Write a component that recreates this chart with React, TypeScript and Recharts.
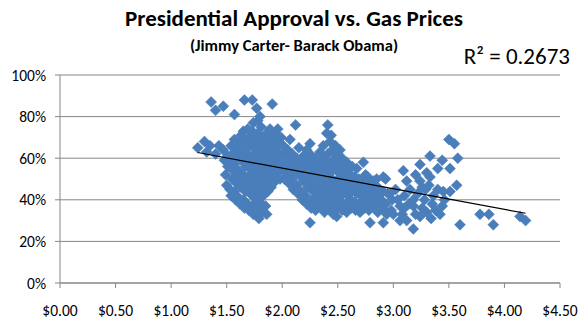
import { CartesianGrid, Scatter, ScatterChart, XAxis, YAxis } from "recharts";

type Pair = [number, number];

// [gas price $, approval %]
const under2: Pair[] = [
  [1.36, 87], [1.4, 83], [1.47, 85], [1.57, 81], [1.66, 88], [1.73, 88], [1.77, 84], [1.91, 86],
  [1.8, 80], [1.74, 77], [1.65, 73], [1.89, 74], [1.96, 74],
  [1.24, 65], [1.3, 68], [1.35, 66], [1.43, 66], [1.47, 64], [1.4, 62], [1.32, 63], [1.51, 61],
  [1.5, 47], [1.49, 52], [1.51, 56], [1.48, 59],
  [1.54, 42], [1.53, 45], [1.55, 50], [1.54, 55], [1.53, 58], [1.55, 62], [1.54, 66],
  [1.58, 40], [1.57, 44], [1.59, 48], [1.58, 53], [1.57, 57], [1.59, 61], [1.58, 65], [1.57, 69],
  [1.62, 38], [1.61, 41], [1.63, 46], [1.62, 50], [1.61, 54], [1.63, 59], [1.62, 63], [1.61, 67], [1.63, 71],
  [1.66, 36], [1.65, 40], [1.67, 44], [1.66, 48], [1.65, 52], [1.67, 56], [1.66, 60], [1.65, 64], [1.67, 68],
  [1.7, 35], [1.69, 38], [1.71, 43], [1.7, 47], [1.69, 51], [1.71, 55], [1.7, 59], [1.69, 62], [1.71, 66], [1.7, 70], [1.69, 74],
  [1.74, 33], [1.73, 37], [1.75, 41], [1.74, 45], [1.73, 49], [1.75, 53], [1.74, 57], [1.73, 61], [1.75, 65], [1.74, 69], [1.73, 73],
  [1.79, 31], [1.78, 36], [1.77, 40], [1.79, 44], [1.78, 48], [1.77, 52], [1.79, 56], [1.78, 60], [1.77, 64], [1.79, 68], [1.78, 72], [1.78, 78],
  [1.82, 34], [1.81, 38], [1.83, 42], [1.82, 46], [1.81, 50], [1.83, 54], [1.82, 58], [1.81, 62], [1.83, 66], [1.82, 70], [1.81, 75],
  [1.86, 33], [1.85, 37], [1.87, 44], [1.86, 48], [1.85, 52], [1.87, 56], [1.86, 60], [1.85, 64], [1.87, 68], [1.86, 72],
  [1.9, 46], [1.89, 50], [1.91, 54], [1.9, 58], [1.89, 62], [1.91, 66], [1.9, 70],
  [1.94, 49], [1.93, 52], [1.95, 56], [1.94, 60], [1.93, 64], [1.95, 68], [1.94, 72],
  [1.98, 50], [1.97, 54], [1.99, 58], [1.98, 62], [1.97, 66], [1.99, 70],
];

const from2to3: Pair[] = [
  [2.12, 76], [2.41, 76], [2.4, 72], [2.25, 67], [2.25, 29], [2.49, 32], [2.79, 29], [2.73, 58], [2.91, 51],
  [2.44, 71], [2.48, 66], [2.52, 64],
  [2.02, 50], [2.01, 54], [2.03, 58], [2.02, 62], [2.01, 66],
  [2.06, 48], [2.05, 52], [2.07, 56], [2.06, 60], [2.05, 64], [2.07, 69],
  [2.1, 45], [2.09, 50], [2.11, 54], [2.1, 58], [2.09, 62],
  [2.14, 43], [2.13, 47], [2.15, 52], [2.14, 56], [2.13, 60], [2.15, 65],
  [2.18, 40], [2.17, 44], [2.19, 49], [2.18, 53], [2.17, 57], [2.19, 61],
  [2.22, 38], [2.21, 42], [2.23, 46], [2.22, 51], [2.21, 55], [2.23, 59], [2.22, 64],
  [2.26, 36], [2.27, 40], [2.26, 45], [2.25, 49], [2.27, 53], [2.26, 57], [2.25, 62],
  [2.3, 35], [2.29, 39], [2.31, 43], [2.3, 47], [2.29, 52], [2.31, 56], [2.3, 60],
  [2.34, 37], [2.33, 41], [2.35, 45], [2.34, 50], [2.33, 54], [2.35, 58], [2.34, 63],
  [2.38, 34], [2.37, 38], [2.39, 42], [2.38, 47], [2.37, 51], [2.39, 55], [2.38, 60], [2.37, 66],
  [2.42, 36], [2.43, 40], [2.42, 44], [2.41, 48], [2.43, 53], [2.42, 57], [2.41, 62], [2.43, 68],
  [2.46, 33], [2.45, 38], [2.47, 42], [2.46, 46], [2.45, 50], [2.47, 55], [2.46, 59], [2.45, 64],
  [2.5, 36], [2.51, 40], [2.5, 45], [2.49, 49], [2.51, 53], [2.5, 57], [2.49, 61],
  [2.54, 35], [2.53, 39], [2.55, 43], [2.54, 47], [2.53, 52], [2.55, 56], [2.54, 60],
  [2.58, 34], [2.57, 37], [2.59, 42], [2.58, 46], [2.57, 50], [2.59, 54], [2.58, 58],
  [2.62, 36], [2.61, 40], [2.63, 44], [2.62, 48], [2.61, 52], [2.63, 56],
  [2.66, 35], [2.65, 39], [2.67, 43], [2.66, 47], [2.65, 51], [2.67, 55],
  [2.7, 34], [2.69, 38], [2.71, 42], [2.7, 46], [2.69, 50],
  [2.74, 36], [2.75, 40], [2.74, 44], [2.73, 48], [2.75, 52],
  [2.78, 35], [2.77, 39], [2.79, 43], [2.78, 47], [2.77, 51],
  [2.82, 37], [2.81, 41], [2.83, 45], [2.82, 49],
  [2.86, 34], [2.85, 38], [2.87, 42], [2.86, 46], [2.85, 50],
  [2.9, 36], [2.89, 40], [2.91, 44], [2.91, 29],
  [2.94, 33], [2.93, 38], [2.95, 43], [2.93, 50], [2.97, 43],
  [2.98, 35], [2.99, 40], [2.88, 43],
];

const over3: Pair[] = [
  [3.5, 69], [3.55, 67], [3.58, 60], [3.33, 61], [3.44, 59], [3.24, 57], [3.09, 54], [3.51, 55],
  [3.4, 55], [3.3, 53], [3.33, 51], [3.12, 49], [3.24, 49], [3.57, 47], [3.45, 44], [3.51, 44],
  [3.29, 45], [3.18, 37], [3.06, 37], [3.35, 38], [3.42, 33], [3.24, 32], [3.06, 30], [3.18, 26],
  [3.6, 28], [3.78, 33], [3.86, 33], [3.9, 28], [4.14, 32], [4.19, 30],
  [3.02, 45], [3.04, 40], [3.08, 33], [3.1, 42], [3.14, 38], [3.15, 45], [3.18, 40], [3.2, 33],
  [3.22, 43], [3.26, 36], [3.28, 40], [3.3, 34], [3.32, 47], [3.36, 42], [3.38, 35], [3.4, 45],
  [3.44, 37], [3.46, 40], [3.12, 30], [3.2, 52], [3.26, 46], [3.34, 31], [3.0, 33], [3.1, 36],
];

const priceTicks = [0, 0.5, 1, 1.5, 2, 2.5, 3, 3.5, 4, 4.5];
const approvalTicks = [0, 20, 40, 60, 80, 100];

// linear trendline (Excel), approval = slope * price + intercept
const trendSlope = -9.9;
const trendIntercept = 75;
const rSquaredLabel = "R² = 0.2673";

const points = [...under2, ...from2to3, ...over3].map(([price, approval]) => ({ price, approval }));
const minPrice = Math.min(...points.map((p) => p.price));
const maxPrice = Math.max(...points.map((p) => p.price));
const trendPoints = [minPrice, maxPrice].map((price) => ({ price, approval: trendSlope * price + trendIntercept }));

const font = "Carlito, Calibri, Lato, sans-serif";
const gray = "#868686";
const blue = "#4a7ebb";

function Diamond(props: { cx?: number; cy?: number }) {
  const { cx, cy } = props;
  if (cx == null || cy == null) return null;
  const r = 5.5;
  return (
    <polygon
      points={`${cx},${cy - r} ${cx + r},${cy} ${cx},${cy + r} ${cx - r},${cy}`}
      fill={blue}
      stroke={blue}
      strokeWidth={0.5}
    />
  );
}

const NoMarker = () => <g />;

export default function App() {
  return (
    <div style={{ position: "absolute", left: 0, top: 0, width: 588, height: 328, background: "#fff", fontFamily: font }}>
      <div style={{ position: "absolute", left: 0, width: 588, top: 7, textAlign: "center", fontSize: 23, fontWeight: 700, lineHeight: 1 }}>
        Presidential Approval vs. Gas Prices
      </div>
      <div style={{ position: "absolute", left: 0, width: 588, top: 37, textAlign: "center", fontSize: 16.5, fontWeight: 700, lineHeight: 1 }}>
        (Jimmy Carter- Barack Obama)
      </div>
      <div style={{ position: "absolute", right: 18, top: 45, fontSize: 23, lineHeight: 1 }}>{rSquaredLabel}</div>
      <ScatterChart width={588} height={328} margin={{ top: 75, right: 28, bottom: 15, left: 0 }}>
        <CartesianGrid horizontal vertical={false} stroke={gray} strokeDasharray="" />
        <XAxis
          type="number"
          dataKey="price"
          domain={[0, 4.5]}
          ticks={priceTicks}
          tickFormatter={(v) => `$${Number(v).toFixed(2)}`}
          axisLine={{ stroke: gray }}
          tickLine={{ stroke: gray }}
          tickSize={5}
          tickMargin={17}
          height={30}
          tick={{ fill: "#000", fontSize: 15.5, fontFamily: font }}
          interval={0}
        />
        <YAxis
          type="number"
          dataKey="approval"
          domain={[0, 100]}
          ticks={approvalTicks}
          tickFormatter={(v) => `${v}%`}
          axisLine={{ stroke: gray }}
          tickLine={{ stroke: gray }}
          tickSize={5}
          tickMargin={9}
          width={60}
          tick={{ fill: "#000", fontSize: 15.5, fontFamily: font }}
          interval={0}
        />
        <Scatter data={points} shape={<Diamond />} isAnimationActive={false} />
        <Scatter
          data={trendPoints}
          line={{ stroke: "#000", strokeWidth: 1.2 }}
          shape={<NoMarker />}
          isAnimationActive={false}
        />
      </ScatterChart>
    </div>
  );
}
